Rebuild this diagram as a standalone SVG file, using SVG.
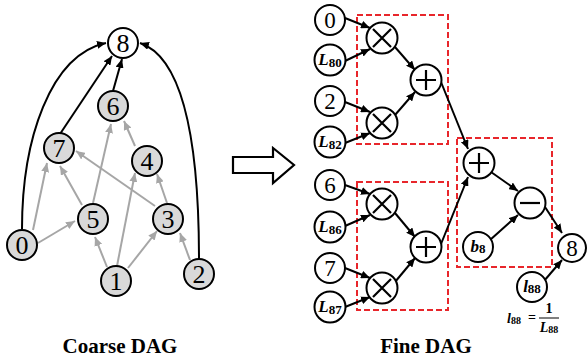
<svg xmlns="http://www.w3.org/2000/svg" width="587" height="362" viewBox="0 0 587 362">
<defs>
<marker id="ab" markerUnits="userSpaceOnUse" markerWidth="10" markerHeight="8" refX="9" refY="4" orient="auto"><path d="M0,0 L9,4 L0,8 z" fill="#000"/></marker>
<marker id="ag" markerUnits="userSpaceOnUse" markerWidth="10" markerHeight="8" refX="9" refY="4" orient="auto"><path d="M0,0 L9,4 L0,8 z" fill="#a6a6a6"/></marker>
<style>
.cn{fill:#d9d9d9;stroke:#000;stroke-width:2}
.fn{fill:#fff;stroke:#000;stroke-width:2}
.ct{font-family:"Liberation Serif",serif;font-size:26px;text-anchor:middle;fill:#000}
.ft{font-family:"Liberation Serif",serif;font-size:23px;text-anchor:middle;fill:#000}
.lt{font-family:"Liberation Serif",serif;font-size:17px;font-weight:bold;font-style:italic;text-anchor:middle;fill:#000}
.sub{font-size:13px;font-style:normal}
.ge{stroke:#a6a6a6;stroke-width:2;fill:none;marker-end:url(#ag)}
.be{stroke:#000;stroke-width:2;fill:none;marker-end:url(#ab)}
.op{stroke:#000;stroke-width:2.2;fill:none}
.box{fill:none;stroke:#e8262b;stroke-width:2;stroke-dasharray:6 3}
.title{font-family:"Liberation Serif",serif;font-size:21px;font-weight:bold;text-anchor:middle;fill:#000}
.fm{font-family:"Liberation Serif",serif;font-size:14px;font-weight:bold;fill:#000}
</style>
</defs>

<!-- Coarse DAG connectors -->
<g id="coarse-edges">
<line class="ge" x1="33" y1="230" x2="47" y2="163"/>
<line class="ge" x1="82" y1="205" x2="60" y2="166"/>
<line class="ge" x1="155" y1="206" x2="76" y2="151"/>
<line class="ge" x1="93" y1="203" x2="111" y2="124"/>
<line class="ge" x1="135" y1="146" x2="124" y2="121"/>
<line class="ge" x1="117" y1="266" x2="135" y2="173"/>
<line class="ge" x1="167" y1="203" x2="157" y2="174"/>
<line class="ge" x1="38" y1="243" x2="75" y2="221"/>
<line class="ge" x1="107" y1="267" x2="95" y2="237"/>
<line class="ge" x1="128" y1="268" x2="157" y2="231"/>
<line class="ge" x1="190" y1="260" x2="180" y2="233"/>
<line class="be" x1="60" y1="134" x2="112" y2="56"/>
<line class="be" x1="113" y1="91" x2="122" y2="59"/>
<path class="be" d="M22,229 C22,140 50,55 106,43"/>
<path class="be" d="M199,259 C199,150 185,58 140,43"/>
</g>

<g id="c8"><circle class="fn" cx="123" cy="43" r="15"/><text class="ct" x="123" y="52">8</text></g>
<g id="c6"><circle class="cn" cx="113" cy="106" r="15"/><text class="ct" x="113" y="115">6</text></g>
<g id="c7"><circle class="cn" cx="59" cy="148" r="15"/><text class="ct" x="59" y="157">7</text></g>
<g id="c4"><circle class="cn" cx="147" cy="161" r="15"/><text class="ct" x="147" y="170">4</text></g>
<g id="c5"><circle class="cn" cx="93" cy="219" r="15"/><text class="ct" x="93" y="228">5</text></g>
<g id="c3"><circle class="cn" cx="168" cy="219" r="15"/><text class="ct" x="168" y="228">3</text></g>
<g id="c0"><circle class="cn" cx="22" cy="245" r="15"/><text class="ct" x="22" y="254">0</text></g>
<g id="c1"><circle class="cn" cx="116" cy="281" r="15"/><text class="ct" x="116" y="290">1</text></g>
<g id="c2"><circle class="cn" cx="199" cy="274" r="15"/><text class="ct" x="199" y="283">2</text></g>

<text class="title" x="120" y="353">Coarse DAG</text>

<!-- big arrow -->
<g id="bigarrow"><path d="M233,157 L273,157 L273,148 L294,165 L273,183 L273,173 L233,173 z" fill="#fff" stroke="#000" stroke-width="2.2"/></g>

<!-- red boxes -->
<g id="boxes">
<rect class="box" x="357" y="15" width="91" height="129"/>
<rect class="box" x="357" y="182" width="91" height="128"/>
<rect class="box" x="457" y="138" width="95" height="129"/>
</g>

<!-- Fine DAG connectors -->
<g id="fine-edges">
<line class="be" x1="345" y1="18" x2="370" y2="28"/>
<line class="be" x1="345" y1="61" x2="370" y2="49"/>
<line class="be" x1="395" y1="47" x2="415" y2="70"/>
<line class="be" x1="345" y1="102" x2="370" y2="112"/>
<line class="be" x1="345" y1="143" x2="370" y2="133"/>
<line class="be" x1="395" y1="115" x2="415" y2="92"/>
<line class="be" x1="345" y1="185" x2="370" y2="194"/>
<line class="be" x1="345" y1="226" x2="370" y2="215"/>
<line class="be" x1="395" y1="213" x2="415" y2="237"/>
<line class="be" x1="345" y1="268" x2="370" y2="278"/>
<line class="be" x1="345" y1="307" x2="370" y2="297"/>
<line class="be" x1="395" y1="282" x2="415" y2="258"/>
<line class="be" x1="441" y1="82" x2="468" y2="149"/>
<line class="be" x1="441" y1="244" x2="468" y2="177"/>
<line class="be" x1="491" y1="172" x2="518" y2="191"/>
<line class="be" x1="490" y1="240" x2="518" y2="215"/>
<line class="be" x1="545" y1="207" x2="562" y2="233"/>
<line class="be" x1="544" y1="281" x2="562" y2="260"/>
</g>

<g id="f0"><circle class="fn" cx="330" cy="20" r="15"/><text class="ft" x="330" y="28">0</text></g>
<g id="fL80"><circle class="fn" cx="330" cy="60" r="15.5"/><text class="lt" x="330" y="65">L<tspan class="sub" dy="2">80</tspan></text></g>
<g id="f2"><circle class="fn" cx="330" cy="101" r="15"/><text class="ft" x="330" y="109">2</text></g>
<g id="fL82"><circle class="fn" cx="330" cy="142" r="15.5"/><text class="lt" x="330" y="147">L<tspan class="sub" dy="2">82</tspan></text></g>
<g id="f6"><circle class="fn" cx="330" cy="185" r="15"/><text class="ft" x="330" y="193">6</text></g>
<g id="fL86"><circle class="fn" cx="330" cy="227" r="15.5"/><text class="lt" x="330" y="232">L<tspan class="sub" dy="2">86</tspan></text></g>
<g id="f7"><circle class="fn" cx="330" cy="268" r="15"/><text class="ft" x="330" y="276">7</text></g>
<g id="fL87"><circle class="fn" cx="330" cy="307" r="15.5"/><text class="lt" x="330" y="312">L<tspan class="sub" dy="2">87</tspan></text></g>

<g id="mul1"><circle class="fn" cx="382" cy="38" r="15.5"/><path class="op" d="M373,29 L391,47 M391,29 L373,47"/></g>
<g id="mul2"><circle class="fn" cx="382" cy="123" r="15.5"/><path class="op" d="M373,114 L391,132 M391,114 L373,132"/></g>
<g id="mul3"><circle class="fn" cx="382" cy="204" r="15.5"/><path class="op" d="M373,195 L391,213 M391,195 L373,213"/></g>
<g id="mul4"><circle class="fn" cx="382" cy="288" r="15.5"/><path class="op" d="M373,279 L391,297 M391,279 L373,297"/></g>
<g id="add1"><circle class="fn" cx="426" cy="80" r="15.5"/><path class="op" d="M426,70 L426,90 M416,80 L436,80"/></g>
<g id="add2"><circle class="fn" cx="426" cy="247" r="15.5"/><path class="op" d="M426,237 L426,257 M416,247 L436,247"/></g>
<g id="add3"><circle class="fn" cx="479" cy="163" r="15.5"/><path class="op" d="M479,153 L479,173 M469,163 L489,163"/></g>
<g id="sub"><circle class="fn" cx="530" cy="203" r="15.5"/><path class="op" d="M520,203 L540,203"/></g>
<g id="fb8"><circle class="fn" cx="478" cy="247" r="15"/><text class="lt" x="478" y="252">b<tspan class="sub" dy="1">8</tspan></text></g>
<g id="f8"><circle class="fn" cx="572" cy="248" r="14"/><text class="ft" x="572" y="256">8</text></g>
<g id="fl88"><circle class="fn" cx="532" cy="287" r="15"/><text class="lt" x="532" y="292">l<tspan class="sub" dy="1">88</tspan></text></g>

<g id="formula">
<text class="fm" x="507" y="323"><tspan font-style="italic">l</tspan><tspan font-size="10px" dy="1">88</tspan></text>
<text class="fm" x="532" y="322" text-anchor="middle" font-weight="normal">=</text>
<text class="fm" x="549" y="313" text-anchor="middle">1</text>
<line x1="539" y1="318" x2="559" y2="318" stroke="#000" stroke-width="1"/>
<text class="fm" x="549" y="332" text-anchor="middle"><tspan font-style="italic">L</tspan><tspan font-size="10px" dy="1">88</tspan></text>
</g>

<text class="title" x="426" y="353">Fine DAG</text>
</svg>
